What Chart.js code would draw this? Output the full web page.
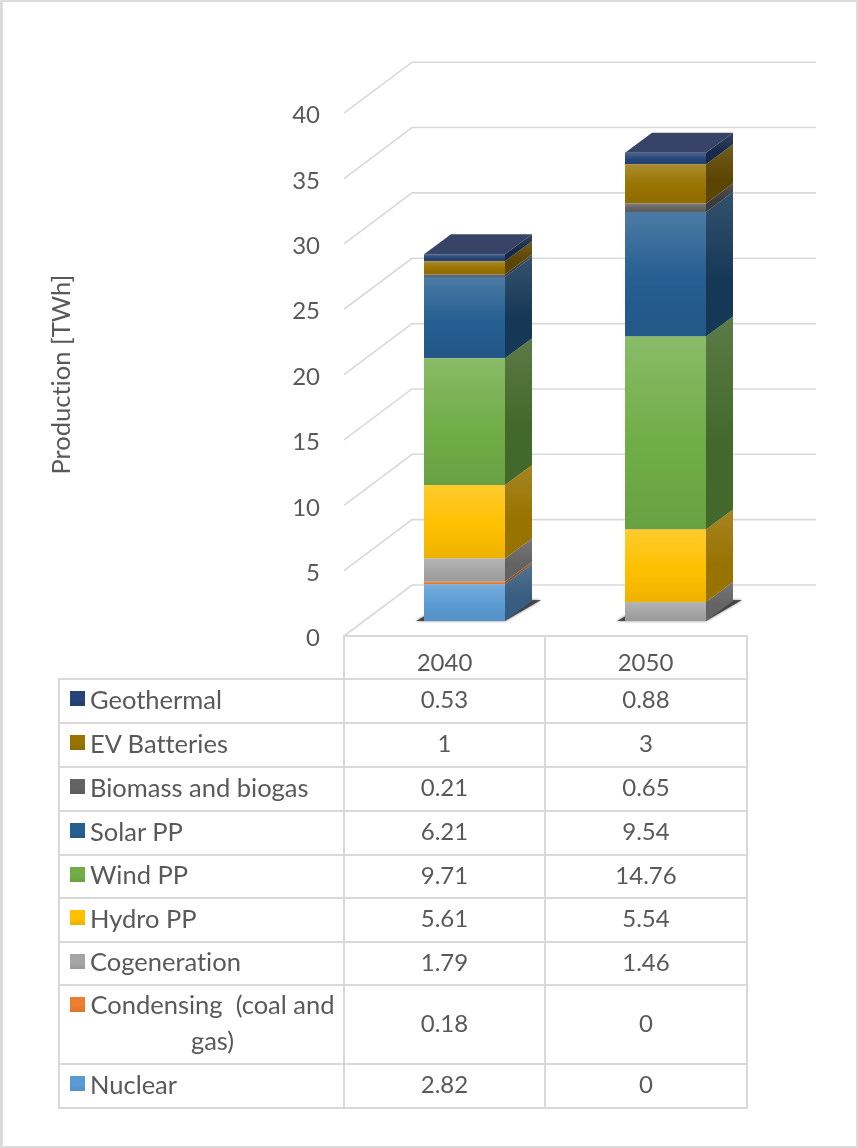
<!DOCTYPE html>
<html>
<head>
<meta charset="utf-8">
<style>
  html, body { margin: 0; padding: 0; background: #fff; }
  #frame { position: relative; width: 858px; height: 1148px; overflow: hidden; }
  #frame:after { content: ""; position: absolute; left: 0; top: 0; right: 0; bottom: 0;
    border: solid #dcdcdc; border-width: 2px 2px 2px 3px; pointer-events: none; }
  canvas { position: absolute; left: 0; top: 0; filter: blur(0.5px); }
  table { position: absolute; left: 58px; top: 635px; border-collapse: collapse; table-layout: fixed;
    width: 688px; font: 24px Lato, sans-serif; color: #595959; filter: blur(0.5px); font-variant-ligatures: none; }
  td { border: 2px solid #d9d9d9; height: 42px; padding: 0 0 5px 0; text-align: center; box-sizing: border-box; }
  td.name { position: relative; text-align: left; padding-left: 30px; padding-right: 8px; white-space: pre-wrap;
    line-height: 36px; font-size: 25.5px; }
  td.name.wrap { text-align: center; }
  td.blank { border-top: none; border-left: none; }
  .sw { position: absolute; left: 10px; top: 11px; width: 15px; height: 15px; }
</style>
</head>
<body>
<div id="frame">
  <canvas id="myChart" width="858" height="1148"></canvas>
  <table id="dataTable"></table>
</div>

<script src="https://cdn.jsdelivr.net/npm/chart.js"></script>

<script>
  const years = ['2040', '2050'];
  const names = ['Nuclear', 'Condensing  (coal and gas)', 'Cogeneration', 'Hydro PP', 'Wind PP', 'Solar PP', 'Biomass and biogas', 'EV Batteries', 'Geothermal'];
  const nuclear = [2.82, 0];
  const condensing = [0.18, 0];
  const cogeneration = [1.79, 1.46];
  const hydro = [5.61, 5.54];
  const wind = [9.71, 14.76];
  const solar = [6.21, 9.54];
  const biomass = [0.21, 0.65];
  const evBatteries = [1, 3];
  const geothermal = [0.53, 0.88];
  const allValues = [nuclear, condensing, cogeneration, hydro, wind, solar, biomass, evBatteries, geothermal];
  const colors = ['#5b9bd5', '#ed7d31', '#a5a5a5', '#ffc000', '#70ad47', '#255e91', '#636363', '#997300', '#264478'];
  const rowHeights = [44, 44, 44, 44, 43, 44, 43, 78, 44]; // reversed order of names, top row first

  const textColor = '#595959';
  const gridColor = '#d9d9d9';
  const fontName = 'Lato, sans-serif';

  // 3d look: bars sit in front of the axis plane, the wall is further back
  const barShift = { x: 20, y: -15 };
  const depth = { x: 27, y: -20 };
  const wall = { x: 68, y: -51 };
  const wallRight = 816;

  function darker(hex, f) {
    const n = parseInt(hex.slice(1), 16);
    return `rgb(${(n >> 16) * f},${((n >> 8) & 255) * f},${(n & 255) * f})`;
  }

  const cube3d = {
    id: 'cube3d',
    beforeDraw(chart) {
      // no "ti" ligature in the axis title
      chart.ctx.fontVariantLigatures = 'none';
      chart.ctx.textRendering = 'optimizeSpeed';
    },
    beforeDatasetsDraw(chart) {
      const c = chart.ctx;
      const yScale = chart.scales.y;
      const left = chart.chartArea.left;

      // wall and side grid lines
      c.save();
      c.strokeStyle = gridColor;
      c.lineWidth = 1.6;
      yScale.ticks.forEach(t => {
        const y = yScale.getPixelForValue(t.value);
        c.beginPath();
        c.moveTo(left, y);
        c.lineTo(left + wall.x, y + wall.y);
        c.lineTo(wallRight, y + wall.y);
        c.stroke();
      });
      c.restore();

      c.save();
      c.translate(barShift.x, barShift.y);

      // shadow on the floor
      const first = chart.getDatasetMeta(0).data;
      first.forEach(b => {
        const x0 = b.x - b.width / 2, x1 = b.x + b.width / 2, y = yScale.getPixelForValue(0);
        c.save();
        c.shadowColor = 'rgba(40,40,40,0.7)';
        c.shadowBlur = 3;
        c.fillStyle = 'rgba(55,55,55,0.85)';
        c.beginPath();
        c.moveTo(x0 - 8, y);
        c.lineTo(x1, y);
        c.lineTo(x1 + depth.x + 9, y + depth.y - 1);
        c.lineTo(x0 + depth.x, y + depth.y);
        c.closePath();
        c.fill();
        c.restore();
      });
    },
    afterDatasetsDraw(chart) {
      const c = chart.ctx;
      const topFace = [null, null];

      chart.data.datasets.forEach((ds, i) => {
        chart.getDatasetMeta(i).data.forEach((b, j) => {
          if (!ds.data[j]) return;
          const x0 = b.x - b.width / 2, x1 = b.x + b.width / 2;
          const yt = b.y, yb = b.base;

          // side face
          c.beginPath();
          c.moveTo(x1, yt);
          c.lineTo(x1 + depth.x, yt + depth.y);
          c.lineTo(x1 + depth.x, yb + depth.y);
          c.lineTo(x1, yb);
          c.closePath();
          c.fillStyle = darker(colors[i], 0.6);
          c.fill();
          let g = c.createLinearGradient(0, yt + depth.y, 0, yb);
          g.addColorStop(0, 'rgba(255,255,255,0.13)');
          g.addColorStop(0.6, 'rgba(255,255,255,0)');
          c.fillStyle = g;
          c.fill();

          // shading on the front face
          g = c.createLinearGradient(0, yt, 0, yb);
          g.addColorStop(0, 'rgba(255,255,255,0.18)');
          g.addColorStop(0.55, 'rgba(255,255,255,0)');
          g.addColorStop(0.56, 'rgba(0,0,0,0)');
          g.addColorStop(1, 'rgba(0,0,0,0.07)');
          c.fillStyle = g;
          c.fillRect(x0, yt, b.width, yb - yt);

          topFace[j] = { x0, x1, y: yt };
        });
      });

      topFace.forEach(t => {
        c.fillStyle = '#374467';
        c.beginPath();
        c.moveTo(t.x0, t.y);
        c.lineTo(t.x0 + depth.x, t.y + depth.y);
        c.lineTo(t.x1 + depth.x, t.y + depth.y);
        c.lineTo(t.x1, t.y);
        c.closePath();
        c.fill();
      });
      c.restore();
    }
  };

  new Chart(document.getElementById('myChart'), {
    type: 'bar',
    data: {
      labels: years,
      datasets: names.map((n, i) => ({
        label: n,
        data: allValues[i],
        backgroundColor: colors[i],
        clip: false
      }))
    },
    plugins: [cube3d],
    options: {
      responsive: false,
      animation: false,
      categoryPercentage: 0.403,
      barPercentage: 1,
      layout: { padding: { left: 46, top: 113.2, right: 112, bottom: 469 } },
      plugins: { legend: { display: false }, tooltip: { enabled: false } },
      scales: {
        x: {
          stacked: true,
          grid: { display: false, drawTicks: false },
          border: { display: false },
          ticks: { color: textColor, padding: 13, font: { family: fontName, size: 24 } },
          afterFit(s) { s.height = 43; }
        },
        y: {
          stacked: true,
          min: 0,
          max: 40,
          grid: { display: false, drawTicks: false },
          border: { display: false },
          ticks: { stepSize: 5, color: textColor, padding: 24, labelOffset: 2.5, font: { family: fontName, size: 24 } },
          title: { display: true, text: 'Production [TWh]', color: textColor, padding: 0, font: { family: fontName, size: 25.5, weight: 'normal' } },
          afterFit(s) { s.width = 298; }
        }
      }
    }
  });

  // data table under the chart, swatches double as the legend
  let rows = `<colgroup><col style="width:285px"><col style="width:201px"><col style="width:202px"></colgroup>`;
  rows += `<tr style="height:43px"><td class="blank"></td><td></td><td></td></tr>`;
  names.slice().reverse().forEach((n, r) => {
    const i = names.length - 1 - r;
    const wrap = n.length > 20 ? ' wrap' : '';
    const sw = `background:linear-gradient(${colors[i]} 60%, ${darker(colors[i], 0.93)})`;
    rows += `<tr style="height:${rowHeights[r]}px"><td class="name${wrap}"><span class="sw" style="${sw}"></span>${n}</td>`
      + `<td>${allValues[i][0]}</td><td>${allValues[i][1]}</td></tr>`;
  });
  document.getElementById('dataTable').innerHTML = rows;
</script>
</body>
</html>
